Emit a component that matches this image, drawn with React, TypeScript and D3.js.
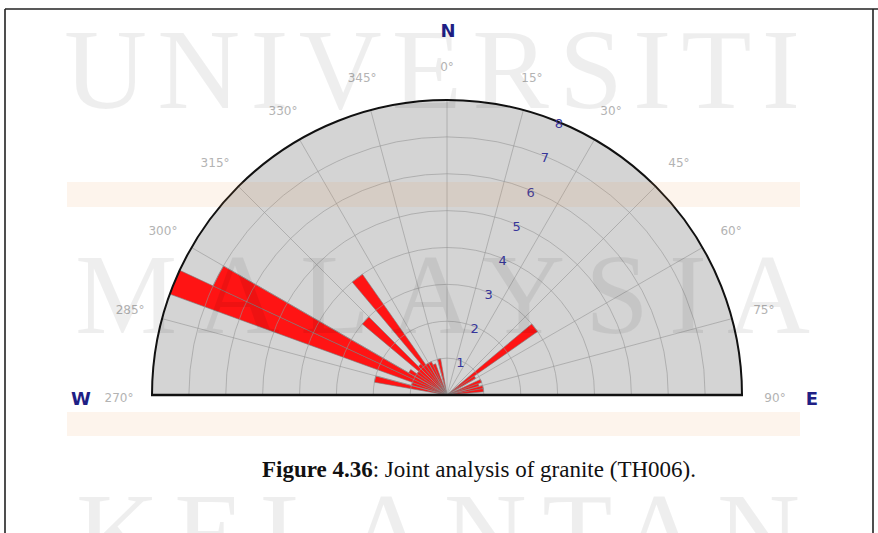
import React from "react";
import * as d3 from "d3";

const W = 878;
const H = 533;

// Rose diagram bins (azimuth start of each 5° bin, clockwise from north) and counts
const binStarts = [280, 285, 290, 295, 300, 305, 310, 315, 320, 325, 330, 335, 345, 50, 55, 65, 70, 75, 80];
const binCounts = [2, 1, 8, 7, 1.2, 1, 3, 1.1, 4, 1, 1, 0.9, 1, 3, 0.9, 1, 0.9, 1, 1];
const binWidth = 5;

const ringValues = [1, 2, 3, 4, 5, 6, 7, 8];
const spokeAngles = [270, 285, 300, 315, 330, 345, 0, 15, 30, 45, 60, 75, 90];
const spokeLabels = ["270°", "285°", "300°", "315°", "330°", "345°", "0°", "15°", "30°", "45°", "60°", "75°", "90°"];
const watermarkWords = ["UNIVERSITI", "MALAYSIA", "KELANTAN"];
const captionBold = "Figure 4.36";
const captionRest = ": Joint analysis of granite (TH006).";

const cx = 447;
const cy = 395;
const R = 295;

const rScale = d3.scaleLinear().domain([0, 8]).range([0, R]);
const toRad = (az: number) => ((az > 180 ? az - 360 : az) * Math.PI) / 180;
const px = (az: number, r: number) => cx + r * Math.sin((az * Math.PI) / 180);
const py = (az: number, r: number) => cy - r * Math.cos((az * Math.PI) / 180);

export default function App() {
  const arc = d3.arc<any>();
  const halfDisc = arc({ innerRadius: 0, outerRadius: R, startAngle: -Math.PI / 2, endAngle: Math.PI / 2 }) as string;
  const outerArc = d3.arc<any>()({ innerRadius: R, outerRadius: R, startAngle: -Math.PI / 2, endAngle: Math.PI / 2 }) as string;

  const petals = binStarts.map((s, i) => {
    const a0 = toRad(s);
    const a1 = a0 + (binWidth * Math.PI) / 180;
    return arc({ innerRadius: 0, outerRadius: rScale(binCounts[i]), startAngle: a0, endAngle: a1 }) as string;
  });

  const ringPath = (v: number) => {
    const p = d3.path();
    p.arc(0, 0, rScale(v), Math.PI, 2 * Math.PI);
    return p.toString();
  };

  const gridColor = "rgb(150,150,150)";
  const navy = "#1f1f85";

  return (
    <div style={{ position: "absolute", left: 0, top: 0 }}>
      <svg width={W} height={H} style={{ display: "block", background: "#fff" }}>
        <rect x={0} y={0} width={W} height={H} fill="#fff" />
        <g transform={`translate(${cx},${cy})`}>
          <path d={halfDisc} fill="#d4d4d4" />
          {petals.map((d, i) => (
            <path key={i} d={d} fill="#ff1414" stroke="#7a7a7a" strokeOpacity={0.75} strokeWidth={0.8} />
          ))}
          {ringValues.slice(0, 7).map((v) => (
            <path key={v} d={ringPath(v)} fill="none" stroke={gridColor} strokeOpacity={0.6} strokeWidth={1} />
          ))}
        </g>
        {spokeAngles.slice(1, -1).map((a) => (
          <line
            key={a}
            x1={cx}
            y1={cy}
            x2={px(a, R)}
            y2={py(a, R)}
            stroke={gridColor}
            strokeOpacity={0.6}
            strokeWidth={1}
          />
        ))}
        <g transform={`translate(${cx},${cy})`}>
          <path d={outerArc} fill="none" stroke="#111" strokeWidth={2} />
        </g>
        <line x1={cx - R - 1} y1={cy} x2={cx + R + 1} y2={cy} stroke="#111" strokeWidth={2.6} />

        {/* ring value labels */}
        {ringValues.map((v) => (
          <text
            key={v}
            x={px(22.4, rScale(v) - 1.5)}
            y={py(22.4, rScale(v) - 1.5)}
            dy="0.36em"
            textAnchor="middle"
            fontFamily="DejaVu Sans, Verdana, sans-serif"
            fontSize={13}
            fill="#36369a"
          >
            {v}
          </text>
        ))}

        {/* direction labels */}
        {spokeAngles.map((a, i) => (
          <text
            key={a}
            x={px(a, 328)}
            y={py(a, 328) + (a === 90 || a === 270 ? 3 : 0)}
            dy="0.36em"
            textAnchor="middle"
            fontFamily="DejaVu Sans, Verdana, sans-serif"
            fontSize={12}
            fill="#b3b3b3"
          >
            {spokeLabels[i]}
          </text>
        ))}
        <text x={448} y={31} dy="0.36em" textAnchor="middle" fontFamily="DejaVu Sans, Verdana, sans-serif" fontWeight="bold" fontSize={18} fill={navy}>
          N
        </text>
        <text x={81} y={399} dy="0.36em" textAnchor="middle" fontFamily="DejaVu Sans, Verdana, sans-serif" fontWeight="bold" fontSize={18} fill={navy}>
          W
        </text>
        <text x={812} y={399} dy="0.36em" textAnchor="middle" fontFamily="DejaVu Sans, Verdana, sans-serif" fontWeight="bold" fontSize={18} fill={navy}>
          E
        </text>

        {/* caption */}
        <text x={262} y={477} textAnchor="start" fontFamily="Liberation Serif, Times New Roman, serif" fontSize={23} fill="#111">
          <tspan fontWeight="bold">{captionBold}</tspan>
          <tspan>{captionRest}</tspan>
        </text>

        {/* watermark overlay */}
        <g pointerEvents="none">
          <rect x={67} y={182} width={733} height={25} fill="rgb(235,150,70)" fillOpacity={0.1} />
          <rect x={67} y={412} width={733} height={24} fill="rgb(235,150,70)" fillOpacity={0.1} />
          <text x={64} y={108} fontFamily="Liberation Serif, serif" fontSize={115} textLength={736} lengthAdjust="spacing" fill="#000" fillOpacity={0.065}>
            {watermarkWords[0]}
          </text>
          <text x={75} y={333} fontFamily="Liberation Serif, serif" fontSize={115} textLength={735} lengthAdjust="spacing" fill="#000" fillOpacity={0.065}>
            {watermarkWords[1]}
          </text>
          <text x={76} y={572} fontFamily="Liberation Serif, serif" fontSize={115} textLength={724} lengthAdjust="spacing" fill="#000" fillOpacity={0.065}>
            {watermarkWords[2]}
          </text>
        </g>

        {/* frame */}
        <line x1={5} y1={9} x2={W} y2={9} stroke="#222" strokeWidth={1.6} />
        <line x1={5} y1={9} x2={5} y2={H} stroke="#222" strokeWidth={1.6} />
        <line x1={873} y1={9} x2={873} y2={H} stroke="#222" strokeWidth={1.6} />
      </svg>
    </div>
  );
}
